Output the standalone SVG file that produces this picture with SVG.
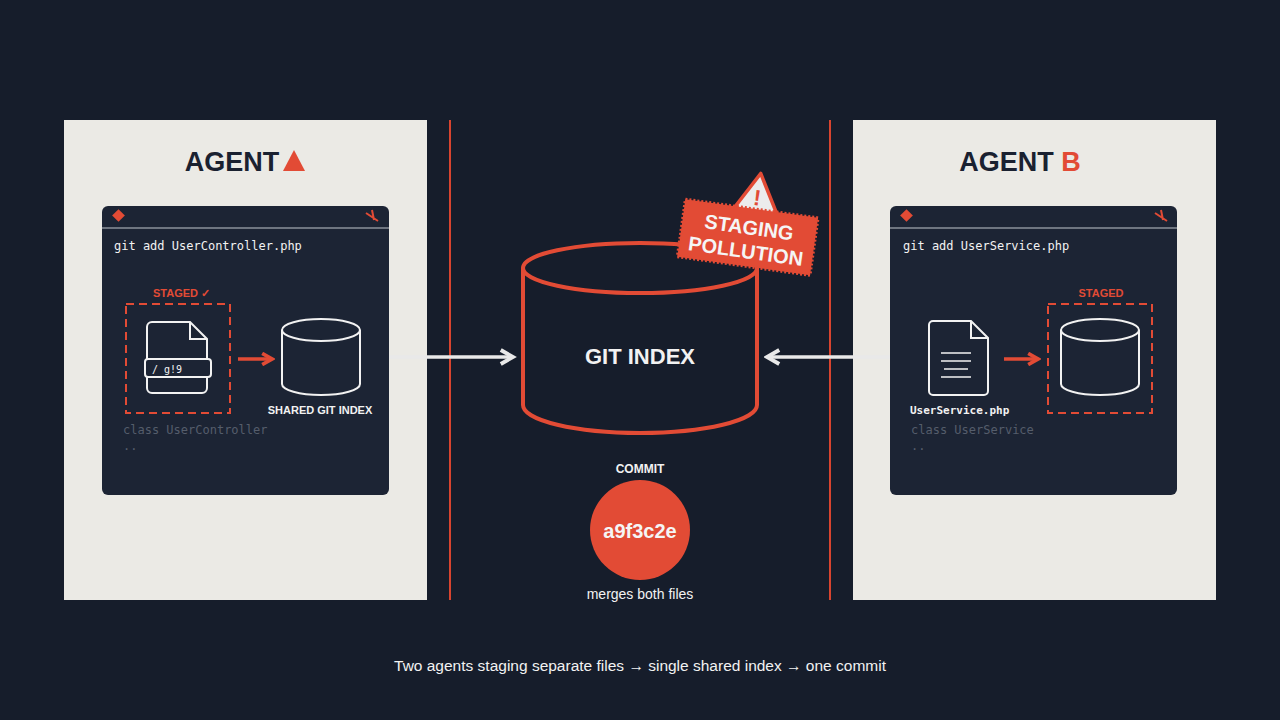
<svg xmlns="http://www.w3.org/2000/svg" width="1280" height="720" viewBox="0 0 1280 720">
<defs>
<style>
.panel{fill:#ebeae5}
.term{fill:#1c2434}
.mono{font-family:"DejaVu Sans Mono","Liberation Mono",monospace}
.sans{font-family:"Liberation Sans",Arial,sans-serif;font-weight:bold}
.wl{fill:none;stroke:#f2f2f2;stroke-width:2}
.red{fill:#e24b35}
.dash{fill:none;stroke:#e24b35;stroke-width:2;stroke-dasharray:8 5}
</style>
<marker id="ah" viewBox="0 0 10 10" refX="8" refY="5" markerWidth="5" markerHeight="5" orient="auto"><path d="M1 1L8 5L1 9" fill="none" stroke="#e9e9e9" stroke-width="2.2"/></marker>
<marker id="ar" viewBox="0 0 10 10" refX="8" refY="5" markerWidth="4" markerHeight="4" orient="auto"><path d="M1 1L8 5L1 9" fill="none" stroke="#e24b35" stroke-width="2.6"/></marker>
</defs>
<rect width="1280" height="720" fill="#161d2b"/>
<line x1="450" y1="120" x2="450" y2="600" stroke="#d8442f" stroke-width="2"/>
<line x1="830" y1="120" x2="830" y2="600" stroke="#d8442f" stroke-width="2"/>

<g id="agentA">
<rect class="panel" x="64" y="120" width="363" height="480"/>
<text x="232" y="171" class="sans" font-size="27" fill="#1a2130" text-anchor="middle">AGENT</text>
<path d="M283 171L294 150L305 171Z" fill="#e24b35"/>
<rect class="term" x="102" y="206" width="287" height="289" rx="6"/>
<line x1="102" y1="228" x2="389" y2="228" stroke="#8a909a" stroke-width="1.5"/>
<rect x="114" y="211" width="9" height="9" transform="rotate(45 118.5 215.5)" fill="#e24b35"/>
<path d="M366 213l12 8M372 210l2 10" stroke="#e24b35" stroke-width="2"/>
<text x="114" y="250" class="mono" font-size="12" fill="#f2f2f2">git add UserController.php</text>
<text x="153" y="297" class="sans" font-size="11" fill="#e24b35">STAGED ✓</text>
<rect class="dash" x="126" y="304" width="104" height="109"/>
<path class="wl" d="M152 322h38l17 17v49a5 5 0 0 1-5 5h-50a5 5 0 0 1-5-5v-61a5 5 0 0 1 5-5zM190 322v17h17"/>
<rect x="145" y="359" width="66" height="18" rx="3" fill="#1c2434" stroke="#f2f2f2" stroke-width="2"/>
<text x="152" y="373" class="mono" font-size="10" fill="#f2f2f2">/ g!9</text>
<line x1="238" y1="359" x2="272" y2="359" stroke="#e24b35" stroke-width="3.5" marker-end="url(#ar)"/>
<path class="wl" d="M282 330v54a39 11 0 0 0 78 0v-54"/>
<ellipse class="wl" cx="321" cy="330" rx="39" ry="11"/>
<text x="320" y="414" class="sans" font-size="11" fill="#f2f2f2" text-anchor="middle">SHARED GIT INDEX</text>
<text x="123" y="434" class="mono" font-size="12" fill="#555d6b">class UserController</text>
<text x="123" y="450" class="mono" font-size="12" fill="#555d6b">..</text>
</g>

<g id="agentB">
<rect class="panel" x="853" y="120" width="363" height="480"/>
<text x="1020" y="171" class="sans" font-size="27" fill="#1a2130" text-anchor="middle">AGENT <tspan fill="#e24b35">B</tspan></text>
<rect class="term" x="890" y="206" width="287" height="289" rx="6"/>
<line x1="890" y1="228" x2="1177" y2="228" stroke="#8a909a" stroke-width="1.5"/>
<rect x="902" y="211" width="9" height="9" transform="rotate(45 906.5 215.5)" fill="#e24b35"/>
<path d="M1155 213l12 8M1161 210l2 10" stroke="#e24b35" stroke-width="2"/>
<text x="903" y="250" class="mono" font-size="12" fill="#f2f2f2">git add UserService.php</text>
<path class="wl" d="M933 321h38l17 17v53a4 4 0 0 1-4 4h-51a4 4 0 0 1-4-4v-66a4 4 0 0 1 4-4zM971 321v17h17"/>
<path d="M941 353h30M941 361h30M944 369h24M941 377h30" stroke="#f2f2f2" stroke-width="1.6"/>
<line x1="1004" y1="359" x2="1038" y2="359" stroke="#e24b35" stroke-width="3.5" marker-end="url(#ar)"/>
<text x="1101" y="297" class="sans" font-size="11" fill="#e24b35" text-anchor="middle">STAGED</text>
<rect class="dash" x="1048" y="304" width="104" height="109"/>
<path class="wl" d="M1061 330v54a39 11 0 0 0 78 0v-54"/>
<ellipse class="wl" cx="1100" cy="330" rx="39" ry="11"/>
<text x="910" y="414" class="mono" font-size="11" font-weight="bold" fill="#f2f2f2">UserService.php</text>
<text x="911" y="434" class="mono" font-size="12" fill="#555d6b">class UserService</text>
<text x="911" y="450" class="mono" font-size="12" fill="#555d6b">..</text>
</g>

<g id="connectors">
<line x1="389" y1="357" x2="513" y2="357" stroke="#e9e9e9" stroke-width="3.5" marker-end="url(#ah)"/>
<line x1="890" y1="357" x2="767" y2="357" stroke="#e9e9e9" stroke-width="3.5" marker-end="url(#ah)"/>
</g>

<g id="gitIndex">
<path d="M523 268v137a117 28 0 0 0 234 0v-137" fill="none" stroke="#e24b35" stroke-width="4"/>
<ellipse cx="640" cy="268" rx="117" ry="25" fill="none" stroke="#e24b35" stroke-width="4"/>
<text x="640" y="364" class="sans" font-size="22" fill="#f2f2f2" text-anchor="middle">GIT INDEX</text>
</g>

<g id="badge" transform="rotate(8 746 235)">
<path d="M728 214L752 172L776 214Z" fill="#ececec" stroke="#e24b35" stroke-width="3.5" stroke-linejoin="round"/>
<text x="752" y="204" class="sans" font-size="22" fill="#e24b35" text-anchor="middle">!</text>
<rect x="681" y="208" width="134" height="58" fill="#e24b35" stroke="#e24b35" stroke-width="3" stroke-dasharray="2 2"/>
<text x="748" y="234" class="sans" font-size="20" fill="#f5f5f5" text-anchor="middle">STAGING</text>
<text x="748" y="258" class="sans" font-size="20" fill="#f5f5f5" text-anchor="middle">POLLUTION</text>
</g>

<g id="commit">
<text x="640" y="473" class="sans" font-size="12" fill="#f2f2f2" text-anchor="middle">COMMIT</text>
<circle cx="640" cy="530" r="50" fill="#e24b35"/>
<text x="640" y="538" class="sans" font-size="20" fill="#f5f5f5" text-anchor="middle">a9f3c2e</text>
<text x="640" y="599" font-family="Liberation Sans,sans-serif" font-size="14" fill="#f2f2f2" text-anchor="middle">merges both files</text>
</g>
<text x="640" y="671" font-family="Liberation Sans,sans-serif" font-size="15.5" fill="#f2f2f2" text-anchor="middle">Two agents staging separate files → single shared index → one commit</text>
</svg>
